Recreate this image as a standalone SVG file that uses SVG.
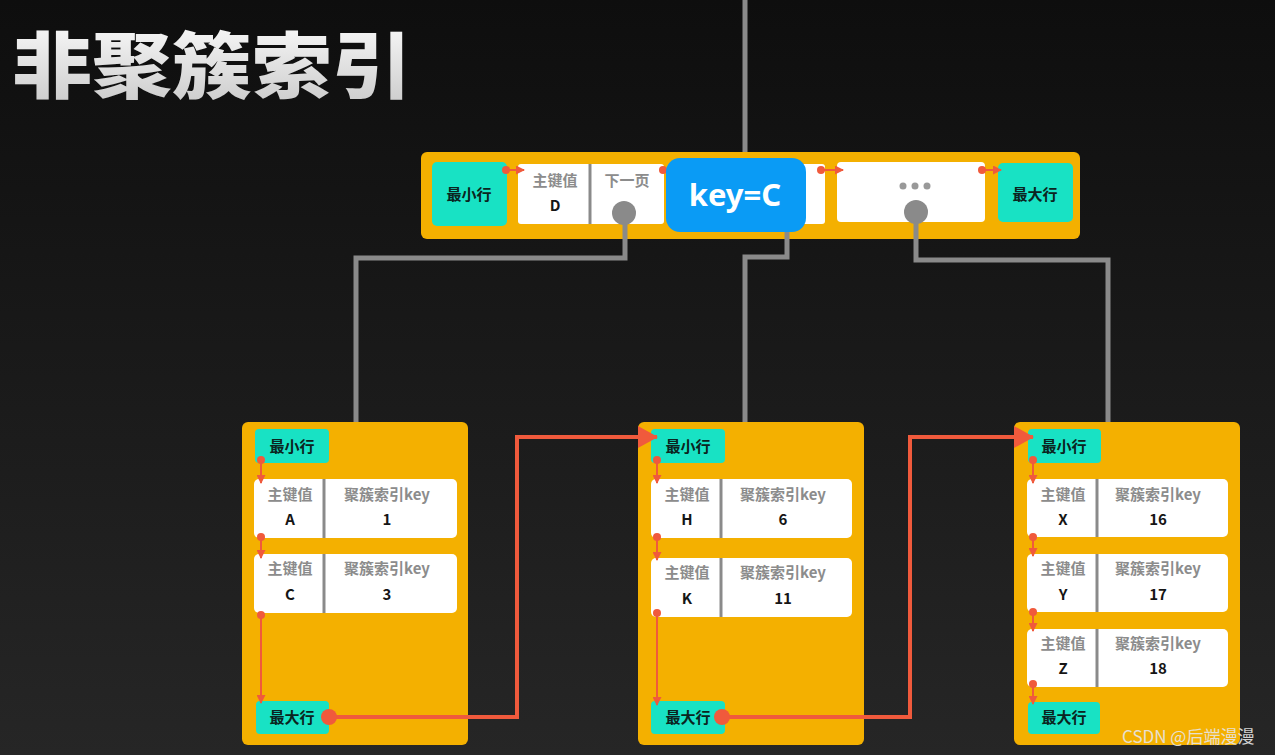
<svg xmlns="http://www.w3.org/2000/svg" width="1275" height="755" viewBox="0 0 1275 755">
<defs>
<linearGradient id="bg" x1="0" y1="0" x2="0" y2="1">
<stop offset="0" stop-color="#0e0e0e"/>
<stop offset="1" stop-color="#262626"/>
</linearGradient>
<linearGradient id="tg" x1="0" y1="0" x2="0" y2="1">
<stop offset="0" stop-color="#ffffff"/>
<stop offset="1" stop-color="#c8c8c8"/>
</linearGradient>
<marker id="sa" markerWidth="9" markerHeight="9" refX="8" refY="4.5" orient="auto" markerUnits="userSpaceOnUse">
<path d="M0,0 L9,4.5 L0,9 z" fill="#f05a3c"/>
</marker>
<marker id="ba" markerWidth="20" markerHeight="22" refX="19" refY="11" orient="auto" markerUnits="userSpaceOnUse">
<path d="M0,0 L20,11 L0,22 z" fill="#f05a3c"/>
</marker>
<style>
.node{fill:#f4b000}
.teal{fill:#18e2c4}
.cell{fill:#ffffff}
.div{stroke:#8a8a8a;stroke-width:3}
.t{font-family:"Noto Sans CJK SC","Noto Sans",sans-serif;font-weight:700;text-anchor:middle}
.lbl{font-size:15px;fill:#0b2420}
.hdr{font-size:15px;fill:#8c8c8c}
.val{font-size:15px;fill:#151515}
.conn{stroke:#8a8a8a;stroke-width:5;fill:none}
.red{stroke:#f05a3c;stroke-width:2;fill:none}
.bigred{stroke:#f05a3c;stroke-width:4;fill:none}
.dot{fill:#f05a3c}
.gdot{fill:#8a8a8a}
</style>
</defs>
<rect width="1275" height="755" fill="url(#bg)"/>

<text id="title" class="t" transform="translate(12,92) scale(1.11,1)" style="text-anchor:start;font-size:72px;font-weight:900" fill="url(#tg)">非聚簇索引</text>

<g id="root">
<rect class="node" x="421" y="152" width="659" height="87" rx="6"/>
<rect class="teal" x="432" y="162" width="75" height="64" rx="5"/>
<text class="t lbl" x="469" y="200">最小行</text>
<rect class="cell" x="518" y="164" width="146" height="60" rx="3"/>
<rect class="cell" x="668" y="164" width="157" height="60" rx="3"/>
<line class="div" x1="590" y1="164" x2="590" y2="224"/>
<text class="t hdr" x="555" y="186">主键值</text>
<text class="t val" x="555" y="211">D</text>
<text class="t hdr" x="627" y="186">下一页</text>
<circle class="gdot" cx="624" cy="213" r="12"/>
<rect class="cell" x="837" y="162" width="148" height="60" rx="4"/>
<circle cx="903" cy="186" r="3.5" fill="#999"/>
<circle cx="915" cy="186" r="3.5" fill="#999"/>
<circle cx="927" cy="186" r="3.5" fill="#999"/>
<circle class="gdot" cx="916" cy="212" r="12"/>
<rect class="teal" x="998" y="163" width="75" height="59" rx="5"/>
<text class="t lbl" x="1035" y="200">最大行</text>
<line class="red" x1="506" y1="170" x2="524" y2="170" marker-end="url(#sa)"/>
<circle class="dot" cx="506" cy="170" r="4"/>
<circle class="dot" cx="663" cy="170" r="4"/>
<line class="red" x1="821" y1="170" x2="843" y2="170" marker-end="url(#sa)"/>
<circle class="dot" cx="821" cy="170" r="4"/>
<line class="red" x1="982" y1="170" x2="1001" y2="170" marker-end="url(#sa)"/>
<circle class="dot" cx="982" cy="170" r="4"/>
</g>

<g id="search-key">
<rect x="666" y="158" width="140" height="74" rx="14" fill="#0a9bf5"/>
<text class="t" x="735" y="206" style="font-family:'Noto Sans',sans-serif;font-size:31px;fill:#ffffff">key=C</text>
</g>

<g id="leaf-left">
<rect class="node" x="242" y="422" width="226" height="323" rx="6"/>
<rect class="teal" x="255" y="429" width="74" height="34" rx="4"/>
<text class="t lbl" x="292" y="452">最小行</text>
<rect class="cell" x="254" y="479" width="203" height="59" rx="5"/>
<line class="div" x1="324" y1="479" x2="324" y2="538"/>
<text class="t hdr" x="290" y="500">主键值</text>
<text class="t val" x="290" y="525">A</text>
<text class="t hdr" x="387" y="500">聚簇索引key</text>
<text class="t val" x="387" y="525">1</text>
<rect class="cell" x="254" y="554" width="203" height="59" rx="5"/>
<line class="div" x1="324" y1="554" x2="324" y2="613"/>
<text class="t hdr" x="290" y="574">主键值</text>
<text class="t val" x="290" y="600">C</text>
<text class="t hdr" x="387" y="574">聚簇索引key</text>
<text class="t val" x="387" y="600">3</text>
<rect class="teal" x="256" y="701" width="73" height="33" rx="4"/>
<text class="t lbl" x="292" y="723">最大行</text>
<line class="red" x1="261" y1="460" x2="261" y2="483" marker-end="url(#sa)"/>
<circle class="dot" cx="261" cy="460" r="4"/>
<line class="red" x1="261" y1="537" x2="261" y2="558" marker-end="url(#sa)"/>
<circle class="dot" cx="261" cy="537" r="4"/>
<line class="red" x1="261" y1="615" x2="261" y2="703" marker-end="url(#sa)"/>
<circle class="dot" cx="261" cy="615" r="4"/>
</g>

<g id="leaf-middle">
<rect class="node" x="638" y="422" width="226" height="323" rx="6"/>
<rect class="teal" x="651" y="429" width="74" height="34" rx="4"/>
<text class="t lbl" x="688" y="452">最小行</text>
<rect class="cell" x="651" y="479" width="201" height="59" rx="5"/>
<line class="div" x1="721" y1="479" x2="721" y2="538"/>
<text class="t hdr" x="687" y="500">主键值</text>
<text class="t val" x="687" y="525">H</text>
<text class="t hdr" x="783" y="500">聚簇索引key</text>
<text class="t val" x="783" y="525">6</text>
<rect class="cell" x="651" y="558" width="201" height="59" rx="5"/>
<line class="div" x1="721" y1="558" x2="721" y2="617"/>
<text class="t hdr" x="687" y="578">主键值</text>
<text class="t val" x="687" y="604">K</text>
<text class="t hdr" x="783" y="578">聚簇索引key</text>
<text class="t val" x="783" y="604">11</text>
<rect class="teal" x="651" y="701" width="74" height="33" rx="4"/>
<text class="t lbl" x="688" y="723">最大行</text>
<line class="red" x1="657" y1="460" x2="657" y2="483" marker-end="url(#sa)"/>
<circle class="dot" cx="657" cy="460" r="4"/>
<line class="red" x1="657" y1="537" x2="657" y2="560" marker-end="url(#sa)"/>
<circle class="dot" cx="657" cy="537" r="4"/>
<line class="red" x1="657" y1="613" x2="657" y2="705" marker-end="url(#sa)"/>
<circle class="dot" cx="657" cy="613" r="4"/>
</g>

<g id="leaf-right">
<rect class="node" x="1014" y="422" width="226" height="323" rx="6"/>
<rect class="teal" x="1028" y="429" width="73" height="34" rx="4"/>
<text class="t lbl" x="1064" y="452">最小行</text>
<rect class="cell" x="1027" y="479" width="201" height="58" rx="5"/>
<line class="div" x1="1097" y1="479" x2="1097" y2="537"/>
<text class="t hdr" x="1063" y="500">主键值</text>
<text class="t val" x="1063" y="525">X</text>
<text class="t hdr" x="1158" y="500">聚簇索引key</text>
<text class="t val" x="1158" y="525">16</text>
<rect class="cell" x="1027" y="554" width="201" height="58" rx="5"/>
<line class="div" x1="1097" y1="554" x2="1097" y2="612"/>
<text class="t hdr" x="1063" y="574">主键值</text>
<text class="t val" x="1063" y="600">Y</text>
<text class="t hdr" x="1158" y="574">聚簇索引key</text>
<text class="t val" x="1158" y="600">17</text>
<rect class="cell" x="1027" y="629" width="201" height="58" rx="5"/>
<line class="div" x1="1097" y1="629" x2="1097" y2="687"/>
<text class="t hdr" x="1063" y="649">主键值</text>
<text class="t val" x="1063" y="674">Z</text>
<text class="t hdr" x="1158" y="649">聚簇索引key</text>
<text class="t val" x="1158" y="674">18</text>
<rect class="teal" x="1028" y="702" width="72" height="32" rx="4"/>
<text class="t lbl" x="1064" y="723">最大行</text>
<line class="red" x1="1033" y1="460" x2="1033" y2="483" marker-end="url(#sa)"/>
<circle class="dot" cx="1033" cy="460" r="4"/>
<line class="red" x1="1033" y1="537" x2="1033" y2="556" marker-end="url(#sa)"/>
<circle class="dot" cx="1033" cy="537" r="4"/>
<line class="red" x1="1033" y1="612" x2="1033" y2="631" marker-end="url(#sa)"/>
<circle class="dot" cx="1033" cy="612" r="4"/>
<line class="red" x1="1033" y1="684" x2="1033" y2="704" marker-end="url(#sa)"/>
<circle class="dot" cx="1033" cy="684" r="4"/>
</g>

<g id="connectors">
<line class="conn" x1="745" y1="0" x2="745" y2="152"/>
<polyline class="conn" points="625,214 625,258 356,258 356,422"/>
<polyline class="conn" points="787,232 787,257 745,257 745,422"/>
<polyline class="conn" points="916,212 916,260 1108,260 1108,422"/>
<polyline class="bigred" points="329,717 517,717 517,437 657,437" marker-end="url(#ba)"/>
<circle class="dot" cx="329" cy="717" r="8"/>
<polyline class="bigred" points="722,717 910,717 910,437 1033,437" marker-end="url(#ba)"/>
<circle class="dot" cx="722" cy="717" r="8"/>
</g>

<text id="watermark" x="1122" y="743" style="font-family:'Noto Sans CJK SC','Noto Sans',sans-serif;font-size:17px;fill:#e6e6e6;opacity:0.9">CSDN @后端漫漫</text>
</svg>
